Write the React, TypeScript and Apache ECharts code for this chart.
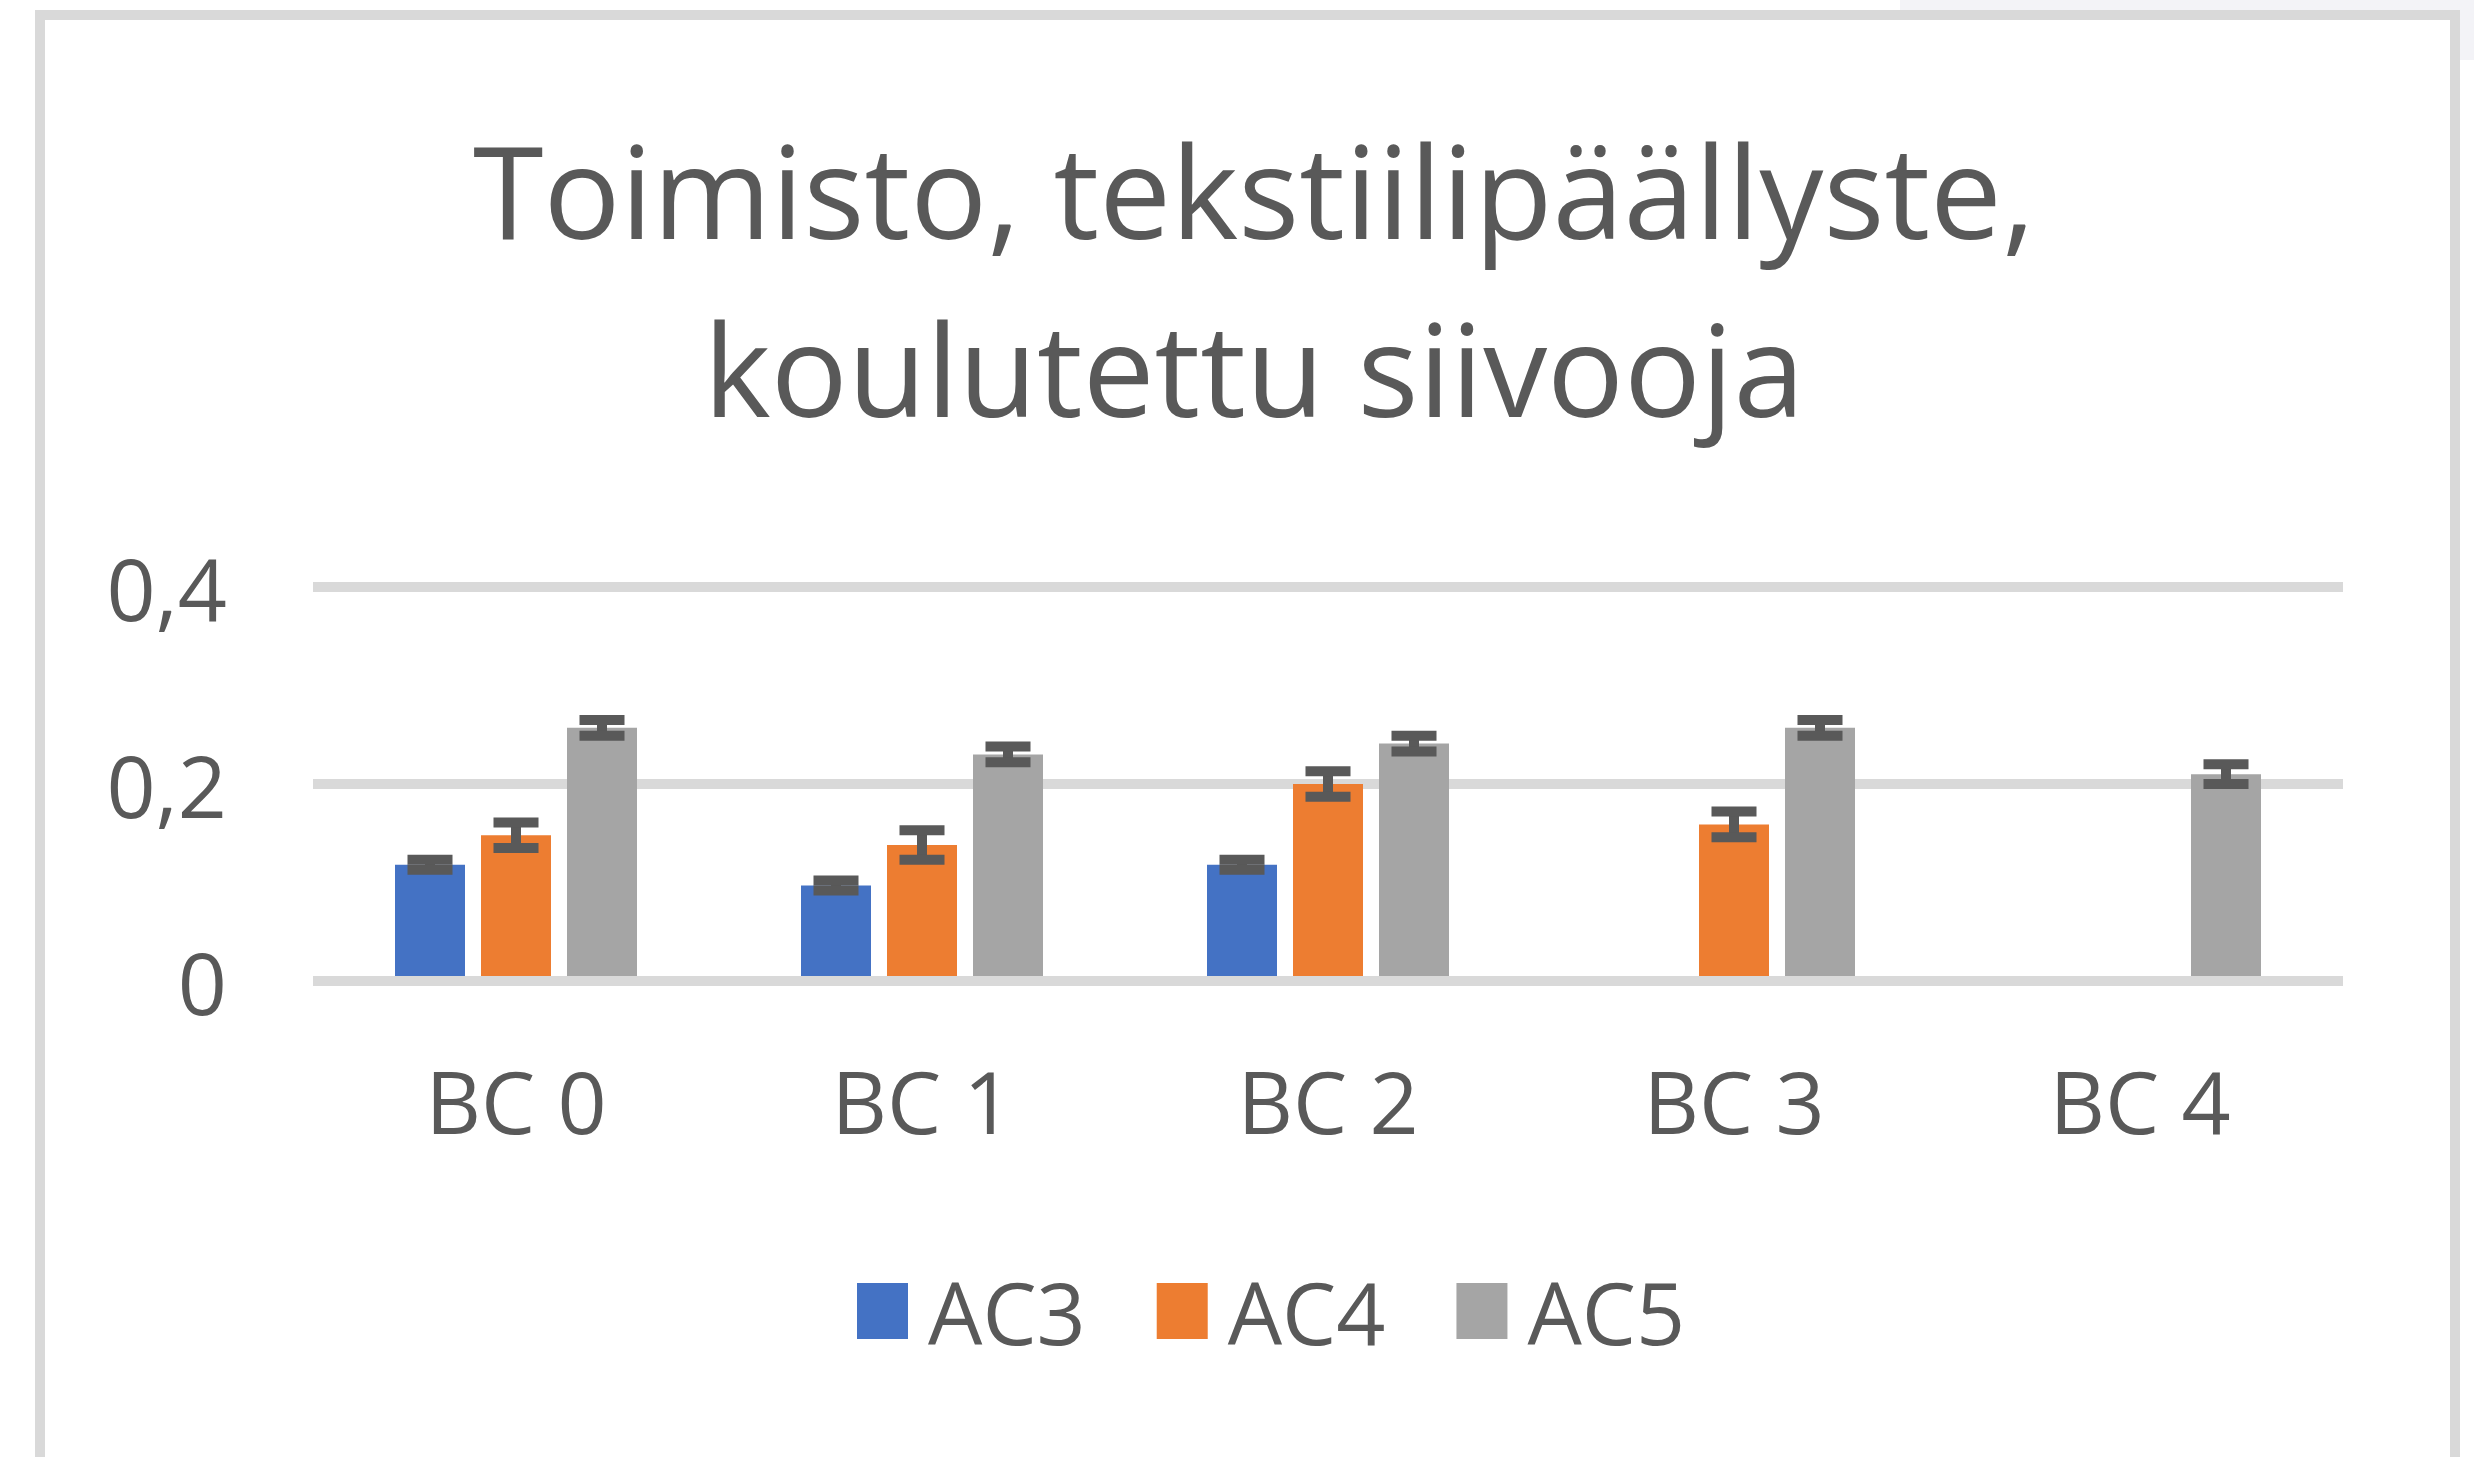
import React, { useEffect, useRef } from "react";
import * as echarts from "echarts";

const categories = ["BC 0", "BC 1", "BC 2", "BC 3", "BC 4"];
const seriesNames = ["AC3", "AC4", "AC5"];
const ac3Values = [0.118, 0.097, 0.118, null, null];
const ac4Values = [0.148, 0.138, 0.2, 0.159, null];
const ac5Values = [0.257, 0.23, 0.241, 0.257, 0.21];
const ac3Errors = [0.005, 0.005, 0.005, null, null];
const ac4Errors = [0.013, 0.015, 0.013, 0.013, null];
const ac5Errors = [0.008, 0.008, 0.008, 0.008, 0.01];
const yTicks = [0, 0.2, 0.4];
const colors = ["#4472C4", "#ED7D31", "#A5A5A5"];

const TITLE = "Toimisto, tekstiilipäällyste,\nkoulutettu siivooja";
const FONT = "'Open Sans', 'Noto Sans', sans-serif";
const TEXT = "#595959";
const BAR_W = 70;
const BAR_GAP = 16;

export default function App() {
  const ref = useRef<HTMLDivElement>(null);
  useEffect(() => {
    if (!ref.current) return;
    const chart = echarts.init(ref.current, null, { renderer: "svg" });
    const values = [ac3Values, ac4Values, ac5Values];
    const errors = [ac3Errors, ac4Errors, ac5Errors];

    const barSeries = seriesNames.map((name, i) => ({
      name,
      type: "bar",
      data: values[i],
      barWidth: BAR_W,
      barGap: (BAR_GAP / BAR_W) * 100 + "%",
      itemStyle: { color: colors[i] },
      z: 2,
    }));

    const errSeries = seriesNames.map((name, i) => ({
      name: name + "_err",
      type: "custom",
      z: 4,
      data: values[i]
        .map((v, k) => (v == null ? null : [k, v, errors[i][k]]))
        .filter((d) => d != null),
      renderItem: (params: any, api: any) => {
        const k = api.value(0);
        const v = api.value(1);
        const e = api.value(2);
        const off = (i - 1) * (BAR_W + BAR_GAP);
        const top = api.coord([k, v + e]);
        const bot = api.coord([k, v - e]);
        const x = top[0] + off;
        const hw = 22.5;
        const style = { stroke: TEXT, lineWidth: 10 };
        return {
          type: "group",
          children: [
            { type: "line", shape: { x1: x, y1: top[1], x2: x, y2: bot[1] }, style },
            { type: "line", shape: { x1: x - hw, y1: top[1], x2: x + hw, y2: top[1] }, style },
            { type: "line", shape: { x1: x - hw, y1: bot[1], x2: x + hw, y2: bot[1] }, style },
          ],
        };
      },
      encode: { x: 0, y: 1 },
      silent: true,
    }));

    chart.setOption({
      animation: false,
      backgroundColor: "#ffffff",
      textStyle: { fontFamily: FONT },
      title: {
        text: TITLE,
        left: 1249,
        top: 95,
        textAlign: "center",
        textStyle: {
          fontFamily: FONT,
          fontSize: 128,
          fontWeight: "normal",
          color: TEXT,
          lineHeight: 178,
        },
      },
      graphic: [
        {
          type: "rect",
          shape: { x: 1900, y: 0, width: 574, height: 10 },
          style: { fill: "#f3f3f7" },
          z: -10,
        },
        {
          type: "rect",
          shape: { x: 2460, y: 0, width: 14, height: 60 },
          style: { fill: "#f3f3f7" },
          z: -10,
        },
        {
          type: "rect",
          shape: { x: 40, y: 15, width: 2415, height: 1500 },
          style: { fill: "none", stroke: "#d9d9d9", lineWidth: 10 },
          z: -5,
        },
      ],
      legend: {
        data: seriesNames,
        left: 852,
        top: 1263,
        itemWidth: 51,
        itemHeight: 56,
        itemGap: 71,
        icon: "rect",
        textStyle: {
          fontFamily: FONT,
          fontSize: 86,
          color: TEXT,
          padding: [0, 0, 0, 15],
        },
      },
      grid: { left: 313, right: 2474 - 2343, top: 587, bottom: 1457 - 981, containLabel: false },
      xAxis: {
        type: "category",
        data: categories,
        z: 3,
        axisLine: { show: true, lineStyle: { color: "#d9d9d9", width: 10, cap: "butt" } },
        axisTick: { show: false },
        axisLabel: {
          fontFamily: FONT,
          fontSize: 86,
          color: TEXT,
          margin: 76,
          lineHeight: 86,
        },
      },
      yAxis: {
        type: "value",
        min: yTicks[0],
        max: yTicks[yTicks.length - 1],
        interval: yTicks[1] - yTicks[0],
        axisLine: { show: false },
        axisTick: { show: false },
        splitLine: { lineStyle: { color: "#d9d9d9", width: 10 } },
        axisLabel: {
          fontFamily: FONT,
          fontSize: 86,
          color: TEXT,
          margin: 86,
          formatter: (v: number) => String(v).replace(".", ","),
        },
      },
      series: [...barSeries, ...errSeries],
    });
    return () => chart.dispose();
  }, []);
  return (
    <div
      ref={ref}
      style={{ position: "absolute", left: 0, top: 0, width: 2474, height: 1457 }}
    />
  );
}
